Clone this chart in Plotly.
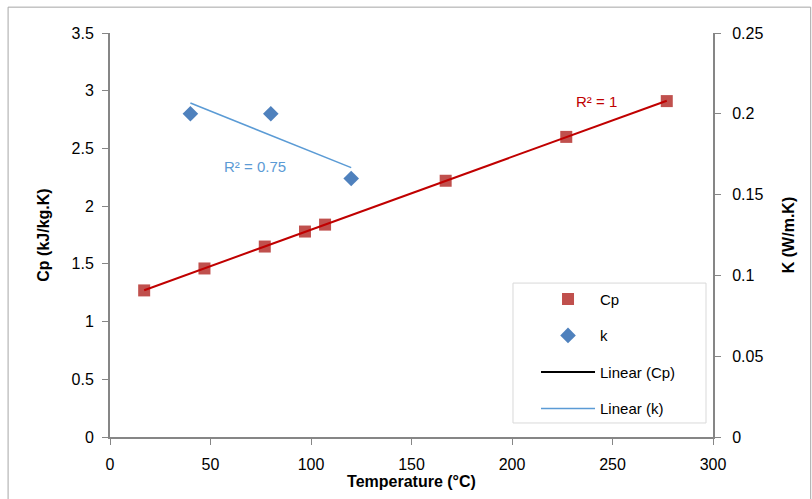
import numpy as np
import plotly.graph_objects as go

temp_cp = [17, 47, 77, 97, 107, 167, 227, 277]
cp_vals = [1.27, 1.46, 1.65, 1.78, 1.84, 2.22, 2.60, 2.91]
temp_k = [40, 80, 120]
k_vals = [0.20, 0.20, 0.16]

RED_M = "#C0504D"
BLUE_M = "#4F81BD"
RED_L = "#C00000"
BLUE_L = "#5B9BD5"
AX = "#868686"
FONT = "Liberation Sans, Arial, sans-serif"

# linear fits
pc = np.polyfit(temp_cp, cp_vals, 1)
pk = np.polyfit(temp_k, k_vals, 1)
xc = np.array([min(temp_cp), max(temp_cp)])
xk = np.array([min(temp_k), max(temp_k)])

fig = go.Figure()
fig.add_trace(go.Scatter(x=temp_cp, y=cp_vals, mode="markers", name="Cp",
                         marker=dict(symbol="square", size=12, color=RED_M),
                         legendgroup="a", legendrank=1))
fig.add_trace(go.Scatter(x=temp_k, y=k_vals, mode="markers", name="k", yaxis="y2",
                         marker=dict(symbol="diamond", size=12, color=BLUE_M),
                         legendgroup="b", legendrank=2))
fig.add_trace(go.Scatter(x=xc, y=np.polyval(pc, xc), mode="lines", showlegend=False,
                         line=dict(color=RED_L, width=2)))
fig.add_trace(go.Scatter(x=[None], y=[None], mode="lines", name="Linear (Cp)",
                         line=dict(color="black", width=2), legendgroup="c", legendrank=3))
fig.add_trace(go.Scatter(x=xk, y=np.polyval(pk, xk), mode="lines", name="Linear (k)", yaxis="y2",
                         line=dict(color=BLUE_L, width=1.5), legendgroup="d", legendrank=4))

fig.add_annotation(x=242, y=2.91, text="R² = 1", showarrow=False,
                   font=dict(color=RED_L, size=15, family=FONT))
fig.add_annotation(x=72, y=2.34, text="R² = 0.75", showarrow=False,
                   font=dict(color=BLUE_L, size=15, family=FONT))

# outer chart border
fig.add_shape(type="rect", xref="paper", yref="paper", x0=-0.169, x1=1.162, y0=-0.17, y1=1.064,
              line=dict(color="#A6A6A6", width=1), layer="below")
# legend box
fig.add_shape(type="rect", xref="paper", yref="paper", x0=0.6683, x1=0.9884, y0=0.0347, y1=0.381,
              line=dict(color="#D9D9D9", width=1), fillcolor="white", layer="below")

fig.update_layout(
    width=812, height=499,
    margin=dict(l=110, r=99, t=33, b=62),
    paper_bgcolor="white", plot_bgcolor="white",
    font=dict(family=FONT, size=16, color="black"),
    xaxis=dict(range=[0, 300], dtick=50, showgrid=False, zeroline=False,
               showline=True, linecolor=AX, linewidth=2, ticks="outside", ticklen=6,
               tickcolor=AX, ticklabelstandoff=6,
               title=dict(text="<b>Temperature (°C)</b>", standoff=2, font=dict(size=16))),
    yaxis=dict(range=[0, 3.5], dtick=0.5, showgrid=False, zeroline=False,
               showline=True, linecolor=AX, linewidth=2, ticks="outside", ticklen=6,
               tickcolor=AX, ticklabelstandoff=5,
               title=dict(text="<b>Cp (kJ/kg.K)</b>", standoff=18, font=dict(size=16))),
    yaxis2=dict(range=[0, 0.25], dtick=0.05, overlaying="y", side="right", showgrid=False,
                zeroline=False, showline=True, linecolor=AX, linewidth=2, ticks="outside",
                ticklen=6, tickcolor=AX, ticklabelstandoff=8,
                title=dict(text="<b>K (W/m.K)</b>", standoff=20, font=dict(size=16))),
    legend=dict(x=0.7065, y=0.382, xanchor="left", yanchor="top",
                bgcolor="rgba(0,0,0,0)", borderwidth=0,
                font=dict(size=15, family=FONT), tracegroupgap=14, itemwidth=54,
                traceorder="grouped"),
)

fig.write_html("out.html")
